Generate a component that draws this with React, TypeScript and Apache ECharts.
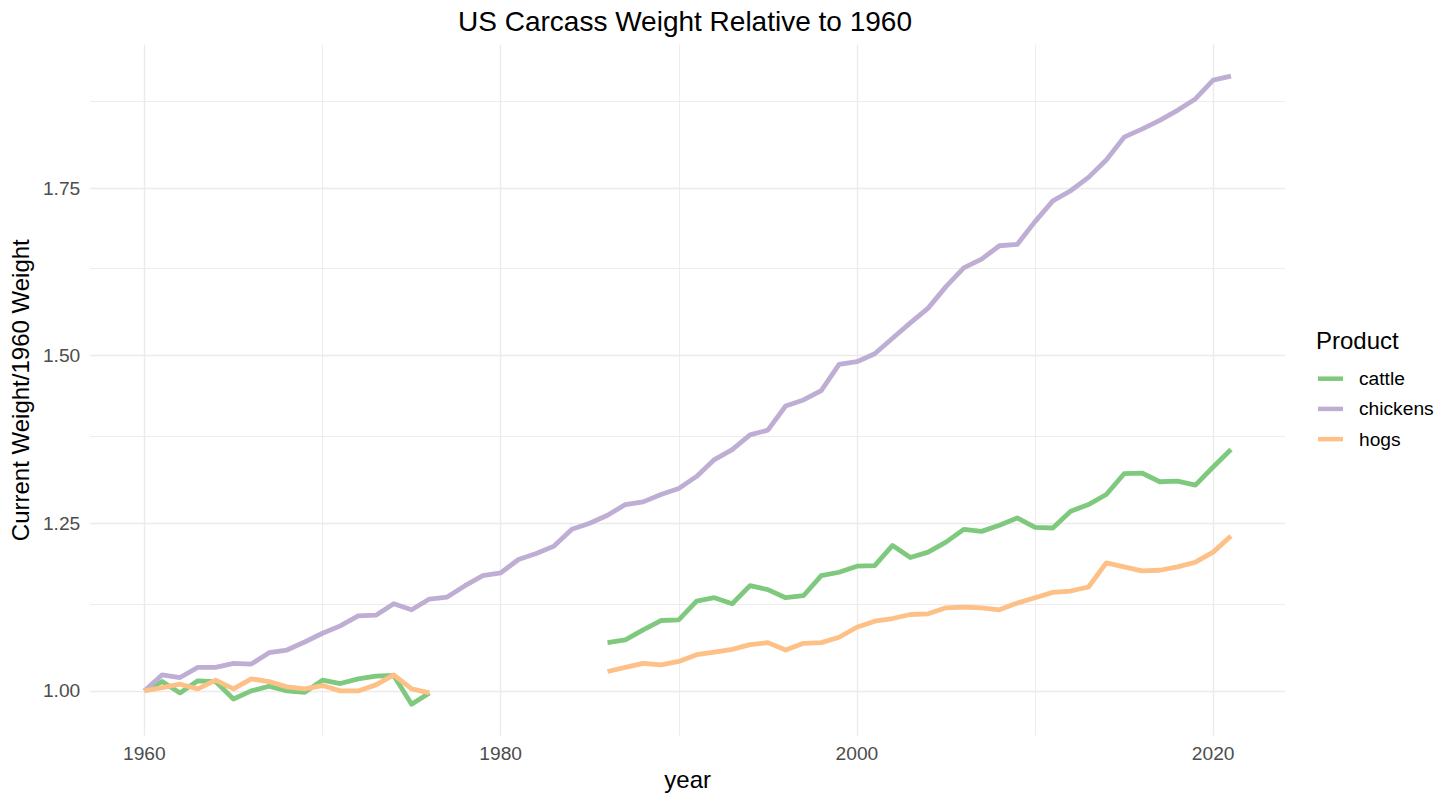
import React, { useEffect, useRef } from "react";
import * as echarts from "echarts";

const years = [
  1960, 1961, 1962, 1963, 1964, 1965, 1966, 1967, 1968, 1969,
  1970, 1971, 1972, 1973, 1974, 1975, 1976, 1977, 1978, 1979,
  1980, 1981, 1982, 1983, 1984, 1985, 1986, 1987, 1988, 1989,
  1990, 1991, 1992, 1993, 1994, 1995, 1996, 1997, 1998, 1999,
  2000, 2001, 2002, 2003, 2004, 2005, 2006, 2007, 2008, 2009,
  2010, 2011, 2012, 2013, 2014, 2015, 2016, 2017, 2018, 2019,
  2020, 2021,
];

const cattle = [
  1.0, 1.014, 0.997, 1.015, 1.014, 0.988, 1.0, 1.007, 1.0, 0.998,
  1.016, 1.011, 1.018, 1.022, 1.023, 0.98, 0.997, null, null, null,
  null, null, null, null, null, null, 1.072, 1.076, 1.091, 1.105,
  1.106, 1.134, 1.139, 1.13, 1.157, 1.151, 1.139, 1.142, 1.172, 1.177,
  1.186, 1.187, 1.217, 1.199, 1.207, 1.222, 1.241, 1.238, 1.247, 1.258,
  1.244, 1.243, 1.268, 1.278, 1.293, 1.324, 1.325, 1.312, 1.313, 1.307,
  1.334, 1.36,
];

const chickens = [
  1.0, 1.024, 1.02, 1.035, 1.035, 1.041, 1.04, 1.057, 1.061, 1.073,
  1.086, 1.097, 1.112, 1.113, 1.13, 1.121, 1.137, 1.14, 1.157, 1.172,
  1.176, 1.196, 1.205, 1.216, 1.241, 1.25, 1.262, 1.278, 1.282, 1.293,
  1.302, 1.32, 1.345, 1.36, 1.382, 1.389, 1.425, 1.434, 1.448, 1.487,
  1.491, 1.503, 1.526, 1.549, 1.571, 1.603, 1.631, 1.644, 1.664, 1.666,
  1.7, 1.731, 1.746, 1.766, 1.792, 1.826, 1.838, 1.851, 1.866, 1.883,
  1.911, 1.917,
];

const hogs = [
  1.0, 1.005, 1.01, 1.003, 1.016, 1.003, 1.018, 1.014, 1.006, 1.003,
  1.008, 1.0, 1.0, 1.009, 1.024, 1.003, 0.997, null, null, null,
  null, null, null, null, null, null, 1.029, 1.035, 1.041, 1.039,
  1.044, 1.054, 1.058, 1.062, 1.069, 1.072, 1.061, 1.071, 1.072, 1.08,
  1.095, 1.104, 1.108, 1.114, 1.115, 1.124, 1.125, 1.124, 1.121, 1.131,
  1.139, 1.147, 1.149, 1.155, 1.191, 1.185, 1.179, 1.18, 1.185, 1.192,
  1.207, 1.231,
];

const seriesNames = ["cattle", "chickens", "hogs"];
const seriesColors = ["#7FC97F", "#BEAED4", "#FDC086"];

const xTickLabels = [1960, 1980, 2000, 2020];
const xMinorBreaks = [1970, 1990, 2010];
const yTickLabels = [1.0, 1.25, 1.5, 1.75];
const yMinorBreaks = [1.125, 1.375, 1.625, 1.875];

const xLimits = [1956.95, 2024.05];
const yLimits = [0.9332, 1.9639];

export default function App() {
  const ref = useRef<HTMLDivElement>(null);

  useEffect(() => {
    if (!ref.current) return;
    const chart = echarts.init(ref.current, null, { renderer: "svg" });
    const font = "'Liberation Sans', Arial, Helvetica, sans-serif";
    const values = [cattle, chickens, hogs];

    const gridLines: any[] = [
      ...xTickLabels.map((v) => ({ xAxis: v, lineStyle: { width: 1.4 } })),
      ...xMinorBreaks.map((v) => ({ xAxis: v, lineStyle: { width: 0.9 } })),
      ...yTickLabels.map((v) => ({ yAxis: v, lineStyle: { width: 1.4 } })),
      ...yMinorBreaks.map((v) => ({ yAxis: v, lineStyle: { width: 0.9 } })),
    ];

    const dataSeries = seriesNames.map((name, si) => ({
      name,
      type: "line",
      z: 3,
      symbol: "none",
      showSymbol: false,
      connectNulls: false,
      color: seriesColors[si],
      lineStyle: { width: 4.8, color: seriesColors[si], join: "round", cap: "butt" },
      data: years.map((y, i) => [y, values[si][i]]),
    }));

    chart.setOption({
      animation: false,
      backgroundColor: "#ffffff",
      textStyle: { fontFamily: font },
      title: {
        text: "US Carcass Weight Relative to 1960",
        left: 685,
        top: 7,
        padding: 0,
        textAlign: "center",
        textStyle: { fontSize: 28, fontWeight: "normal", color: "#000000", fontFamily: font },
      },
      grid: { left: 85.5, right: 170.7, top: 44.7, bottom: 65.3, containLabel: false },
      xAxis: {
        type: "value",
        min: xLimits[0],
        max: xLimits[1],
        name: "year",
        nameLocation: "middle",
        nameGap: 30.5,
        nameTextStyle: { fontSize: 24, color: "#000000", fontFamily: font },
        axisLine: { show: false },
        axisTick: { show: false },
        splitLine: { show: false },
        axisLabel: {
          customValues: xTickLabels,
          formatter: (v: number) => String(Math.round(v)),
          fontSize: 19.2,
          color: "#4D4D4D",
          margin: 8.3,
          fontFamily: font,
        },
      },
      yAxis: {
        type: "value",
        min: yLimits[0],
        max: yLimits[1],
        name: "Current Weight/1960 Weight",
        nameLocation: "middle",
        nameGap: 53.5,
        nameRotate: 90,
        nameTextStyle: { fontSize: 24, color: "#000000", fontFamily: font },
        axisLine: { show: false },
        axisTick: { show: false },
        splitLine: { show: false },
        axisLabel: {
          customValues: yTickLabels,
          formatter: (v: number) => v.toFixed(2),
          fontSize: 19.2,
          color: "#4D4D4D",
          margin: 9.8,
          fontFamily: font,
        },
      },
      legend: {
        orient: "vertical",
        left: 1318,
        top: 363.6,
        padding: 0,
        icon: "rect",
        itemWidth: 25,
        itemHeight: 4.5,
        itemGap: 0,
        data: seriesNames,
        textStyle: {
          fontSize: 19.2,
          lineHeight: 30.2,
          color: "#000000",
          fontFamily: font,
          padding: [0, 0, 0, 11],
        },
      },
      graphic: [
        {
          type: "text",
          left: 1316,
          top: 328,
          style: { text: "Product", fontSize: 24, fill: "#000000", fontFamily: font },
        },
      ],
      series: [
        {
          name: "grid",
          type: "line",
          z: 1,
          data: [],
          silent: true,
          markLine: {
            silent: true,
            z: 1,
            symbol: ["none", "none"],
            label: { show: false },
            lineStyle: { color: "#EBEBEB", type: "solid" },
            emphasis: { disabled: true },
            data: gridLines,
          },
        },
        ...dataSeries,
      ],
    });

    return () => chart.dispose();
  }, []);

  return (
    <div
      ref={ref}
      style={{ position: "fixed", left: 0, top: 0, width: 1456, height: 801 }}
    />
  );
}
